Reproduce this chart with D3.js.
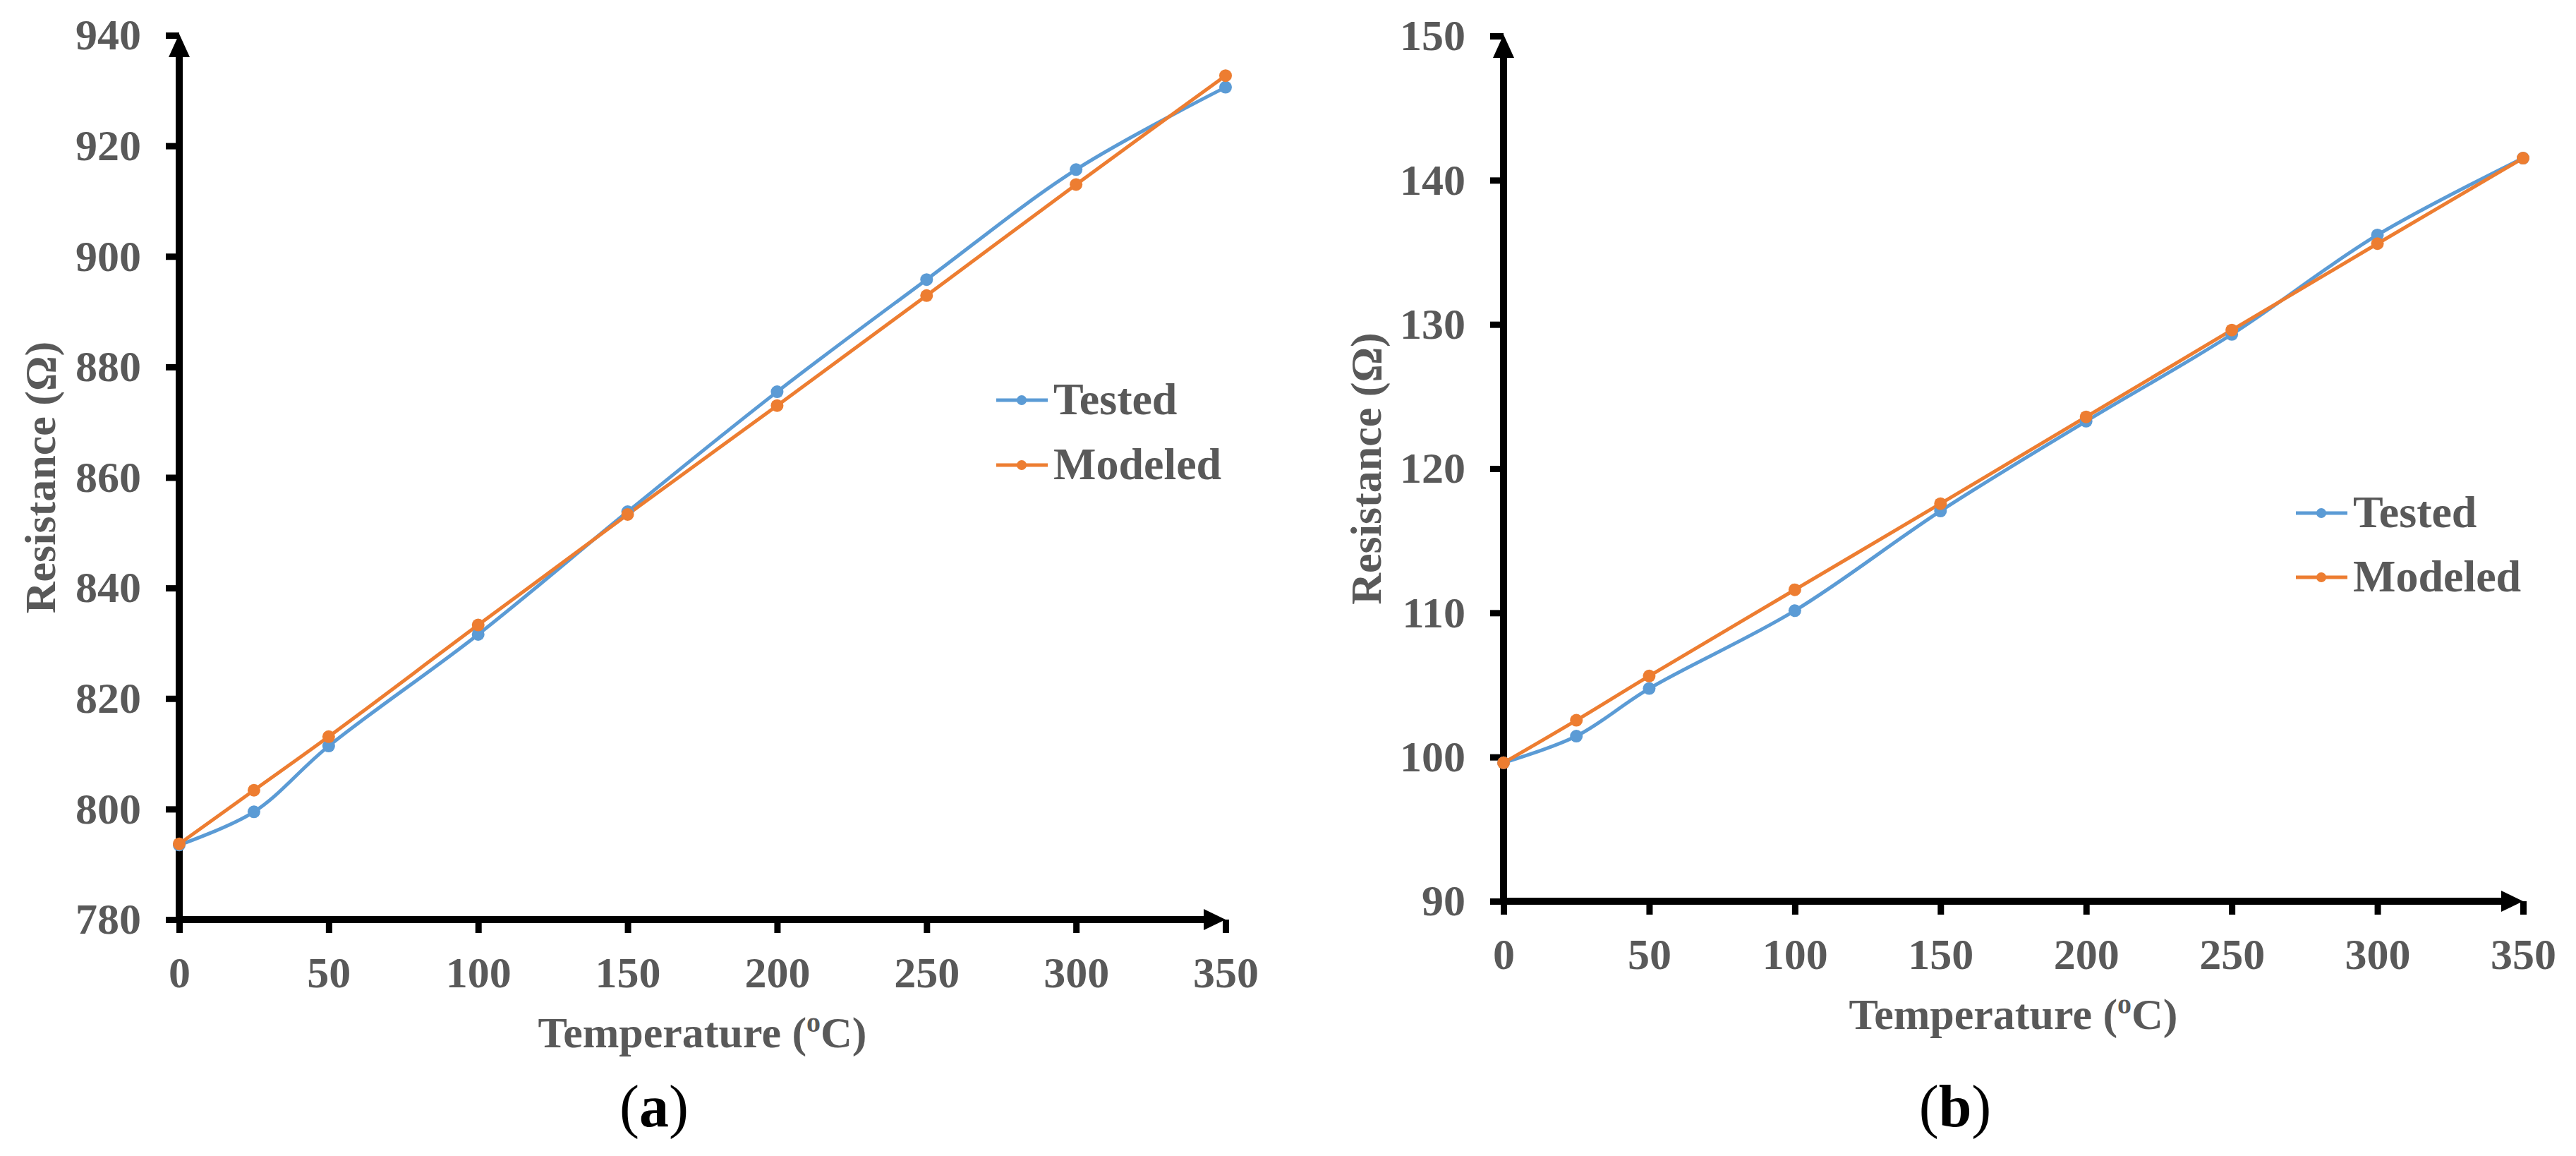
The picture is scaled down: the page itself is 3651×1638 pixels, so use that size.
<!DOCTYPE html>
<html>
<head>
<meta charset="utf-8">
<script src="https://cdn.jsdelivr.net/npm/d3@7"></script>
<style>
  html, body { margin: 0; padding: 0; background: #ffffff; }
  svg { display: block; }
</style>
</head>
<body>
<svg id="chart" width="3651" height="1638"></svg>
<script>
// ---------------- DATA ----------------
const temperatures = [0, 25, 50, 100, 150, 200, 250, 300, 350];
const testedA  = [793.5, 799.5, 811.4, 831.6, 853.8, 875.5, 895.8, 915.7, 930.6];
const modeledA = [793.7, 803.4, 813.1, 833.3, 853.3, 873.0, 892.9, 913.0, 932.7];
const testedB  = [99.6, 101.45, 104.75, 110.15, 117.06, 123.29, 129.31, 136.2, 141.53];
const modeledB = [99.6, 102.55, 105.62, 111.6, 117.57, 123.59, 129.61, 135.6, 141.53];
const xTicks  = [0, 50, 100, 150, 200, 250, 300, 350];
const yTicksA = [780, 800, 820, 840, 860, 880, 900, 920, 940];
const yTicksB = [90, 100, 110, 120, 130, 140, 150];
const seriesNames = ["Tested", "Modeled"];
const captions = ["a", "b"];
const xTitle = "Temperature (";
const yTitle = "Resistance (Ω)";

// ---------------- STYLE ----------------
const colors = ["#5B9BD5", "#ED7D31"];
const textColor = "#595959";
const FONT = "'Liberation Serif', 'Times New Roman', Times, serif";

const panels = [
  { tested: testedA, modeled: modeledA, yTicks: yTicksA, caption: captions[0],
    x0: 254, x1: 1737, yB: 1303, yT: 50, yTitleX: 78,
    legX: 1412, legY: 567, legGap: 92, capX: 927 },
  { tested: testedB, modeled: modeledB, yTicks: yTicksB, caption: captions[1],
    x0: 2131, x1: 3576, yB: 1277, yT: 51, yTitleX: 1957,
    legX: 3254, legY: 727, legGap: 91, capX: 2771 }
];

const svg = d3.select("#chart");

panels.forEach(p => {
  const g = svg.append("g");
  const x = d3.scaleLinear().domain([xTicks[0], xTicks[xTicks.length - 1]]).range([p.x0, p.x1]);
  const y = d3.scaleLinear().domain([p.yTicks[0], p.yTicks[p.yTicks.length - 1]]).range([p.yB, p.yT]);

  // axes via d3 axis generators
  const xAxis = d3.axisBottom(x).tickValues(xTicks).tickSizeInner(19).tickSizeOuter(0).tickPadding(33);
  const yAxis = d3.axisLeft(y).tickValues(p.yTicks).tickSizeInner(19).tickSizeOuter(0).tickPadding(35);

  const gx = g.append("g").attr("transform", `translate(0,${p.yB})`).call(xAxis);
  const gy = g.append("g").attr("transform", `translate(${p.x0},0)`).call(yAxis);
  [gx, gy].forEach(ax => {
    ax.select(".domain").remove();
    ax.selectAll(".tick line").attr("stroke", "#000").attr("stroke-width", 9);
    ax.selectAll(".tick text")
      .attr("fill", textColor)
      .style("font-family", FONT)
      .style("font-weight", "bold")
      .style("font-size", "62px");
  });

  // axis lines with arrowheads
  const aw = 10, ah = 15, al = 31;
  g.append("line").attr("x1", p.x0 - 4.5).attr("x2", p.x1 - al + 2)
    .attr("y1", p.yB).attr("y2", p.yB).attr("stroke", "#000").attr("stroke-width", aw);
  g.append("path")
    .attr("d", `M${p.x1},${p.yB} L${p.x1 - al},${p.yB - ah} L${p.x1 - al},${p.yB + ah} Z`)
    .attr("fill", "#000");
  g.append("line").attr("x1", p.x0).attr("x2", p.x0)
    .attr("y1", p.yB + 4.5).attr("y2", p.yT + al - 2).attr("stroke", "#000").attr("stroke-width", aw);
  g.append("path")
    .attr("d", `M${p.x0},${p.yT - 2} L${p.x0 - ah},${p.yT + al} L${p.x0 + ah},${p.yT + al} Z`)
    .attr("fill", "#000");

  // series
  const series = [p.tested, p.modeled];
  const line = d3.line()
    .x((d, i) => x(temperatures[i]))
    .y(d => y(d))
    .curve(d3.curveCatmullRom.alpha(0.5));
  series.forEach((vals, si) => {
    g.append("path").datum(vals)
      .attr("d", line)
      .attr("fill", "none")
      .attr("stroke", colors[si])
      .attr("stroke-width", 5)
      .attr("stroke-linejoin", "round");
  });
  series.forEach((vals, si) => {
    g.selectAll(null).data(vals).enter().append("circle")
      .attr("cx", (d, i) => x(temperatures[i]))
      .attr("cy", d => y(d))
      .attr("r", 9)
      .attr("fill", colors[si]);
  });

  // legend
  seriesNames.forEach((name, si) => {
    const ly = p.legY + si * p.legGap;
    g.append("line").attr("x1", p.legX).attr("x2", p.legX + 73)
      .attr("y1", ly).attr("y2", ly)
      .attr("stroke", colors[si]).attr("stroke-width", 5);
    g.append("circle").attr("cx", p.legX + 36).attr("cy", ly).attr("r", 7).attr("fill", colors[si]);
    g.append("text").attr("x", p.legX + 81).attr("y", ly + 20)
      .attr("fill", textColor)
      .style("font-family", FONT).style("font-weight", "bold").style("font-size", "64px")
      .text(name);
  });

  // x axis title
  const xt = g.append("text")
    .attr("x", (p.x0 + p.x1) / 2).attr("y", p.yB + 181)
    .attr("text-anchor", "middle")
    .attr("fill", textColor)
    .style("font-family", FONT).style("font-weight", "bold").style("font-size", "62px");
  xt.append("tspan").text(xTitle);
  xt.append("tspan").attr("dy", -22).style("font-size", "40px").text("o");
  xt.append("tspan").attr("dy", 22).text("C)");

  // y axis title
  g.append("text")
    .attr("transform", `translate(${p.yTitleX},${(p.yT + p.yB) / 2}) rotate(-90)`)
    .attr("text-anchor", "middle")
    .attr("fill", textColor)
    .style("font-family", FONT).style("font-weight", "bold").style("font-size", "62px")
    .text(yTitle);

  // caption
  const cap = g.append("text")
    .attr("x", p.capX).attr("y", 1596)
    .attr("text-anchor", "middle")
    .attr("fill", "#000")
    .style("font-family", FONT).style("font-size", "84px");
  cap.append("tspan").text("(");
  cap.append("tspan").style("font-weight", "bold").text(p.caption);
  cap.append("tspan").text(")");
});
</script>
</body>
</html>
